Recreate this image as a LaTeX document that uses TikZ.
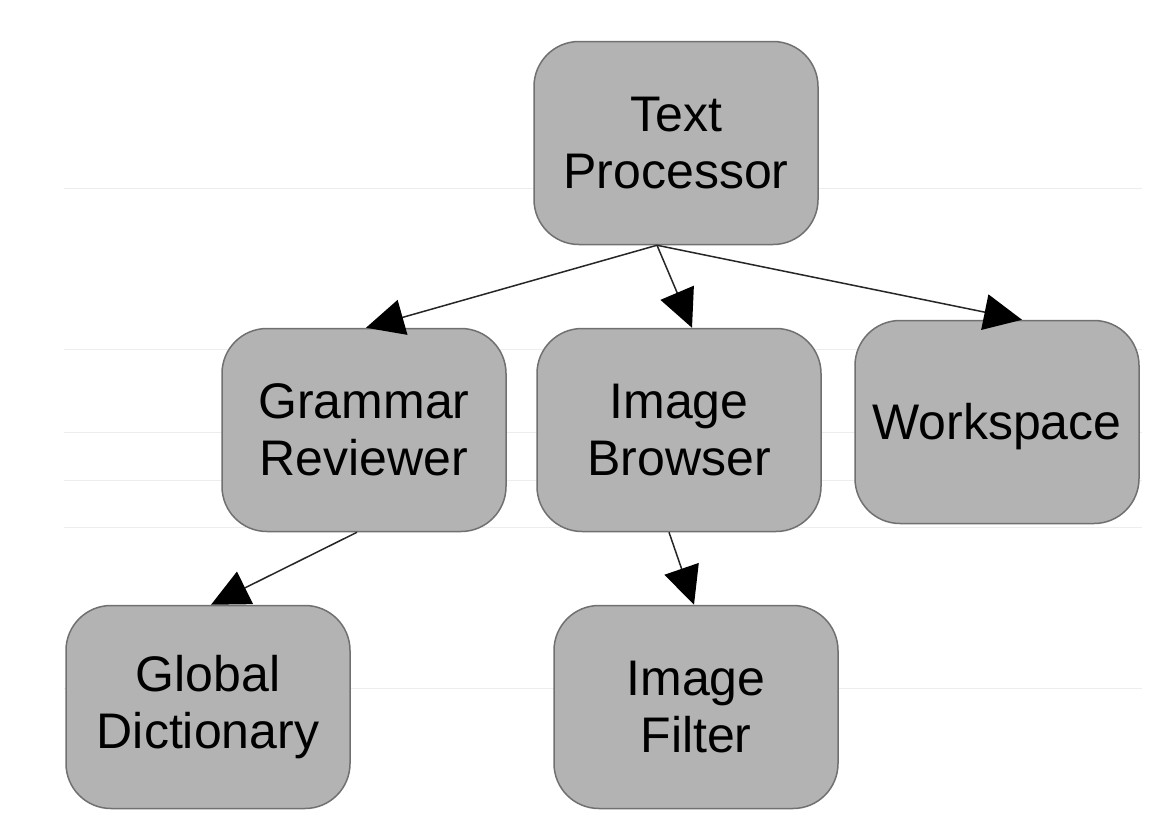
\documentclass[tikz,border=0pt]{standalone}
\usepackage{fontspec}
\setmainfont{Liberation Sans}
\usetikzlibrary{arrows.meta,calc}
\definecolor{boxfill}{HTML}{B3B3B3}
\definecolor{boxedge}{HTML}{707070}
\begin{document}
\begin{tikzpicture}[x=1pt,y=-1pt,
  procbox/.style={draw=boxedge, line width=1.5pt, fill=boxfill, rounded corners=45pt,
    minimum width=284pt, minimum height=203pt, align=center, inner sep=0pt,
    font=\fontsize{50}{57}\selectfont},
  link/.style={draw=black!85, line width=1.5pt, -{Triangle[length=38pt,width=36pt,color=black,fill=black]}},
  faint/.style={draw=black!7, line width=1pt}]
\useasboundingbox (0,0) rectangle (1162,822);
\fill[white] (0,0) rectangle (1162,822);
\foreach \yy in {188,349,432,480,527,688}
  \draw[faint] (64,\yy) -- (1142,\yy);
\node[procbox] (tp) at (676,143) {Text\\Processor};
\node[procbox] (gr) at (364,430) {Grammar\\Reviewer};
\node[procbox] (ib) at (679,430) {Image\\Browser};
\node[procbox] (ws) at (997,422) {\rule{0pt}{46pt}Workspace};
\node[procbox] (gd) at (208,707) {Global\\Dictionary};
\node[procbox] (if) at (696,707) {Image\\Filter};
\coordinate (tpout) at ($(tp.south)+(-19,0)$);
\draw[link] (tpout) -- ($(gr.north)+(2,0)$);
\draw[link] (tpout) -- ($(ib.north)+(13,0)$);
\draw[link] (tpout) -- ($(ws.north)+(25,0)$);
\draw[link] ($(gr.south)+(-7,0)$) -- ($(gd.north)+(3,0)$);
\draw[link] ($(ib.south)+(-10,0)$) -- ($(if.north)+(-2,0)$);
\end{tikzpicture}
\end{document}
